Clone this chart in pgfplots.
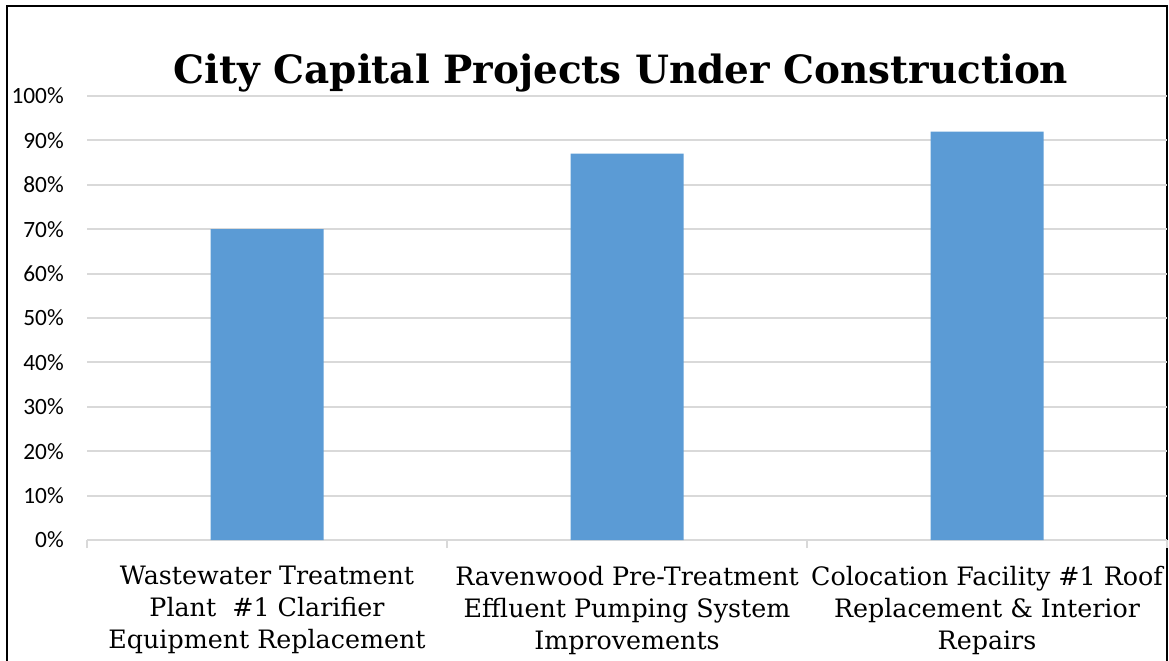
\documentclass[border=0pt]{standalone}
\usepackage{fontspec}
\setmainfont{DejaVu Serif}
\newfontfamily\carlito{Carlito}
\usepackage{pgfplots}
\pgfplotsset{compat=1.18}
\definecolor{barblue}{HTML}{5B9BD5}
\definecolor{gridgray}{HTML}{D9D9D9}
\begin{document}
\begin{tikzpicture}
\useasboundingbox (0pt,0pt) rectangle (876.75pt,-495pt);
\draw[line width=1.6pt] (5.25pt,-510pt) -- (5.25pt,-4.5pt) -- (875.25pt,-4.5pt) -- (875.25pt,-510pt);
\node[anchor=base, font=\fontsize{29.2}{30}\selectfont\bfseries] at (465.75pt,-63pt) {City Capital Projects Under Construction};
\begin{axis}[
  at={(65.25pt,-405pt)}, anchor=south west,
  width=810pt, height=333pt, scale only axis,
  xmin=-0.5, xmax=2.5, ymin=0, ymax=100,
  ybar, bar width=84.75pt, bar shift=0pt,
  axis x line*=bottom, axis y line*=left,
  axis line style={-},
  x axis line style={gridgray, line width=1.4pt},
  y axis line style={draw=none},
  xtick={-0.5,0.5,1.5,2.5}, xticklabels={},
  xtick style={gridgray, line width=1.3pt},
  major tick length=6pt, tick align=outside,
  ytick={0,10,...,100},
  yticklabels={0\%,10\%,20\%,30\%,40\%,50\%,60\%,70\%,80\%,90\%,100\%},
  ytick style={draw=none},
  yticklabel style={font=\fontsize{17.5}{20}\selectfont\carlito, inner sep=0pt, xshift=-11.25pt},
  ymajorgrids, grid style={gridgray, line width=1.4pt},
  extra x ticks={0,1,2},
  extra x tick labels={
    {Wastewater Treatment\\Plant\ \ \#1 Clarifier\\Equipment Replacement},
    {Ravenwood Pre-Treatment\\Effluent Pumping System\\Improvements},
    {Colocation Facility \#1 Roof\\Replacement \& Interior\\Repairs}},
  extra x tick style={major tick length=0pt, grid=none,
    tick label style={font=\fontsize{19}{24}\selectfont, align=center, yshift=-16pt}},
]
\addplot[fill=barblue, draw=none] coordinates {(0,70) (1,87) (2,92)};
\end{axis}
\end{tikzpicture}
\end{document}
